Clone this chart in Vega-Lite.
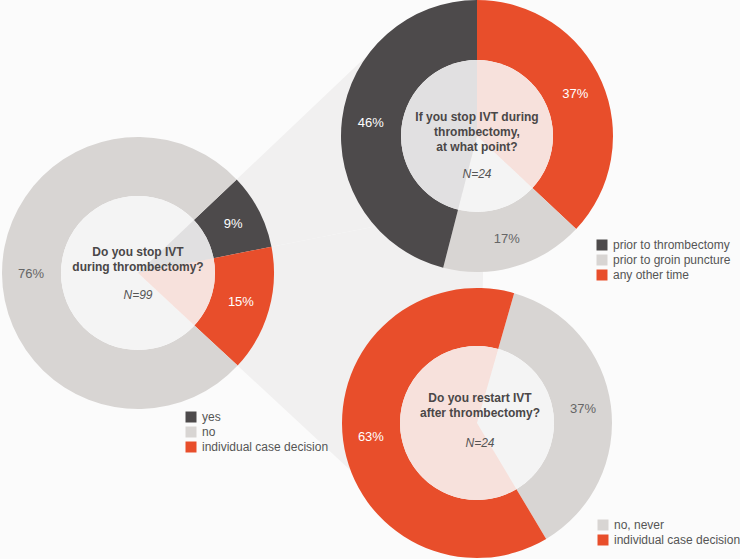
{
  "$schema": "https://vega.github.io/schema/vega-lite/v6.json",
  "background": "#fbfbfb",
  "padding": {"left": -207, "top": -72, "right": 2, "bottom": -55},
  "config": {
    "view": {"stroke": null},
    "font": "Liberation Sans",
    "legend": {
      "symbolType": "square",
      "symbolSize": 121,
      "symbolStrokeWidth": 0,
      "symbolOpacity": 1,
      "labelFont": "Liberation Sans",
      "labelFontSize": 12,
      "labelColor": "#555555",
      "labelOffset": 5,
      "rowPadding": 3,
      "padding": 0
    }
  },
  "spacing": 65,
  "bounds": "flush",
  "resolve": {"scale": {"color": "independent"}},
  "hconcat": [
    {
      "width": 276,
      "height": 546,
      "data": {"values": [
        {"cat": "yes", "v": 0.09, "k": 1},
        {"cat": "individual case decision", "v": 0.15, "k": 2},
        {"cat": "no", "v": 0.76, "k": 3}
      ]},
      "layer": [
        {
          "mark": {"type": "arc", "outerRadius": 345, "innerRadius": 0, "color": "#f1f0f0"},
          "encoding": {
            "theta": {"field": "v", "type": "quantitative", "stack": true, "scale": {"domain": [0, 1], "range": [0.8116, 7.0948]}},
            "order": {"field": "k"},
            "opacity": {"condition": {"test": "datum.cat === 'no'", "value": 0}, "value": 1}
          }
        },
        {
          "mark": {"type": "arc", "outerRadius": 136, "innerRadius": 77},
          "encoding": {
            "theta": {"field": "v", "type": "quantitative", "stack": true, "scale": {"domain": [0, 1], "range": [0.8116, 7.0948]}},
            "order": {"field": "k"},
            "color": {"field": "cat", "type": "nominal",
              "scale": {"domain": ["yes", "no", "individual case decision"], "range": ["#4d4a4b", "#d8d5d3", "#e84e2b"]},
              "legend": {"title": null, "orient": "none", "legendX": 185, "legendY": 411, "direction": "vertical"}}
          }
        },
        {
          "data": {"values": [{"q": ["Do you stop IVT", "during thrombectomy?"], "n": "N=99"}]},
          "mark": {"type": "point", "shape": "circle", "filled": true, "size": 23716, "color": "#fafafa", "opacity": 1},
          "encoding": {}
        },
        {
          "mark": {"type": "arc", "outerRadius": 77, "innerRadius": 0, "opacity": 0.14},
          "encoding": {
            "theta": {"field": "v", "type": "quantitative", "stack": true, "scale": {"domain": [0, 1], "range": [0.8116, 7.0948]}},
            "order": {"field": "k"},
            "color": {"field": "cat", "type": "nominal"}
          }
        },
        {
          "mark": {"type": "text", "radius": 107, "fontSize": 13},
          "encoding": {
            "theta": {"field": "v", "type": "quantitative", "stack": true, "scale": {"domain": [0, 1], "range": [0.8116, 7.0948]}},
            "order": {"field": "k"},
            "text": {"field": "v", "type": "quantitative", "format": ".0%"},
            "color": {"condition": {"test": "datum.cat === 'no'", "value": "#666666"}, "value": "#ffffff"}
          }
        },
        {
          "data": {"values": [{"q": ["Do you stop IVT", "during thrombectomy?"], "n": "N=99"}]},
          "mark": {"type": "text", "fontWeight": "bold", "fontSize": 12, "lineHeight": 15, "dy": -21, "color": "#4a4747"},
          "encoding": {"text": {"field": "q"}}
        },
        {
          "data": {"values": [{"q": ["Do you stop IVT", "during thrombectomy?"], "n": "N=99"}]},
          "mark": {"type": "text", "fontStyle": "italic", "fontSize": 12, "dy": 22, "color": "#555555"},
          "encoding": {"text": {"field": "n"}}
        }
      ]
    },
    {
      "spacing": 16,
      "bounds": "flush",
      "resolve": {"scale": {"color": "independent"}},
      "vconcat": [
        {
          "width": 272,
          "height": 272,
          "data": {"values": [
            {"cat": "any other time", "v": 0.37, "k": 1},
            {"cat": "prior to groin puncture", "v": 0.17, "k": 2},
            {"cat": "prior to thrombectomy", "v": 0.46, "k": 3}
          ]},
          "layer": [
            {
              "mark": {"type": "arc", "outerRadius": 136, "innerRadius": 76},
              "encoding": {
                "theta": {"field": "v", "type": "quantitative", "stack": true, "scale": {"domain": [0, 1], "range": [0, 6.2832]}},
                "order": {"field": "k"},
                "color": {"field": "cat", "type": "nominal",
                  "scale": {"domain": ["prior to thrombectomy", "prior to groin puncture", "any other time"], "range": ["#4d4a4b", "#d8d5d3", "#e84e2b"]},
                  "legend": {"title": null, "orient": "none", "legendX": 255, "legendY": 239, "direction": "vertical"}}
              }
            },
            {
              "data": {"values": [{"q": ["If you stop IVT during", "thrombectomy,", "at what point?"], "n": "N=24"}]},
              "mark": {"type": "point", "shape": "circle", "filled": true, "size": 23104, "color": "#fafafa", "opacity": 1},
              "encoding": {}
            },
            {
              "mark": {"type": "arc", "outerRadius": 76, "innerRadius": 0, "opacity": 0.14},
              "encoding": {
                "theta": {"field": "v", "type": "quantitative", "stack": true, "scale": {"domain": [0, 1], "range": [0, 6.2832]}},
                "order": {"field": "k"},
                "color": {"field": "cat", "type": "nominal"}
              }
            },
            {
              "mark": {"type": "text", "radius": 107, "fontSize": 13},
              "encoding": {
                "theta": {"field": "v", "type": "quantitative", "stack": true, "scale": {"domain": [0, 1], "range": [0, 6.2832]}},
                "order": {"field": "k"},
                "text": {"field": "v", "type": "quantitative", "format": ".0%"},
                "color": {"condition": {"test": "datum.cat === 'prior to groin puncture'", "value": "#666666"}, "value": "#ffffff"}
              }
            },
            {
              "data": {"values": [{"q": ["If you stop IVT during", "thrombectomy,", "at what point?"], "n": "N=24"}]},
              "mark": {"type": "text", "fontWeight": "bold", "fontSize": 12, "lineHeight": 15, "dy": -19, "color": "#4a4747"},
              "encoding": {"text": {"field": "q"}}
            },
            {
              "data": {"values": [{"q": ["If you stop IVT during", "thrombectomy,", "at what point?"], "n": "N=24"}]},
              "mark": {"type": "text", "fontStyle": "italic", "fontSize": 12, "dy": 38, "color": "#555555"},
              "encoding": {"text": {"field": "n"}}
            }
          ]
        },
        {
          "width": 272,
          "height": 270,
          "data": {"values": [
            {"cat": "no, never", "v": 0.37, "k": 1},
            {"cat": "individual case decision", "v": 0.63, "k": 2}
          ]},
          "layer": [
            {
              "mark": {"type": "arc", "outerRadius": 135, "innerRadius": 77},
              "encoding": {
                "theta": {"field": "v", "type": "quantitative", "stack": true, "scale": {"domain": [0, 1], "range": [0.279, 6.562]}},
                "order": {"field": "k"},
                "color": {"field": "cat", "type": "nominal",
                  "scale": {"domain": ["no, never", "individual case decision"], "range": ["#d8d5d3", "#e84e2b"]},
                  "legend": {"title": null, "orient": "none", "legendX": 256, "legendY": 231, "direction": "vertical"}}
              }
            },
            {
              "data": {"values": [{"q": ["Do you restart IVT", "after thrombectomy?"], "n": "N=24"}]},
              "mark": {"type": "point", "shape": "circle", "filled": true, "size": 23716, "color": "#fafafa", "opacity": 1},
              "encoding": {}
            },
            {
              "mark": {"type": "arc", "outerRadius": 77, "innerRadius": 0, "opacity": 0.14},
              "encoding": {
                "theta": {"field": "v", "type": "quantitative", "stack": true, "scale": {"domain": [0, 1], "range": [0.279, 6.562]}},
                "order": {"field": "k"},
                "color": {"field": "cat", "type": "nominal"}
              }
            },
            {
              "mark": {"type": "text", "radius": 107, "fontSize": 13},
              "encoding": {
                "theta": {"field": "v", "type": "quantitative", "stack": true, "scale": {"domain": [0, 1], "range": [0.279, 6.562]}},
                "order": {"field": "k"},
                "text": {"field": "v", "type": "quantitative", "format": ".0%"},
                "color": {"condition": {"test": "datum.cat === 'no, never'", "value": "#666666"}, "value": "#ffffff"}
              }
            },
            {
              "data": {"values": [{"q": ["Do you restart IVT", "after thrombectomy?"], "n": "N=24"}]},
              "mark": {"type": "text", "fontWeight": "bold", "fontSize": 12, "lineHeight": 15, "dy": -25, "dx": 3, "color": "#4a4747"},
              "encoding": {"text": {"field": "q"}}
            },
            {
              "data": {"values": [{"q": ["Do you restart IVT", "after thrombectomy?"], "n": "N=24"}]},
              "mark": {"type": "text", "fontStyle": "italic", "fontSize": 12, "dy": 20, "dx": 3, "color": "#555555"},
              "encoding": {"text": {"field": "n"}}
            }
          ]
        }
      ]
    }
  ]
}
